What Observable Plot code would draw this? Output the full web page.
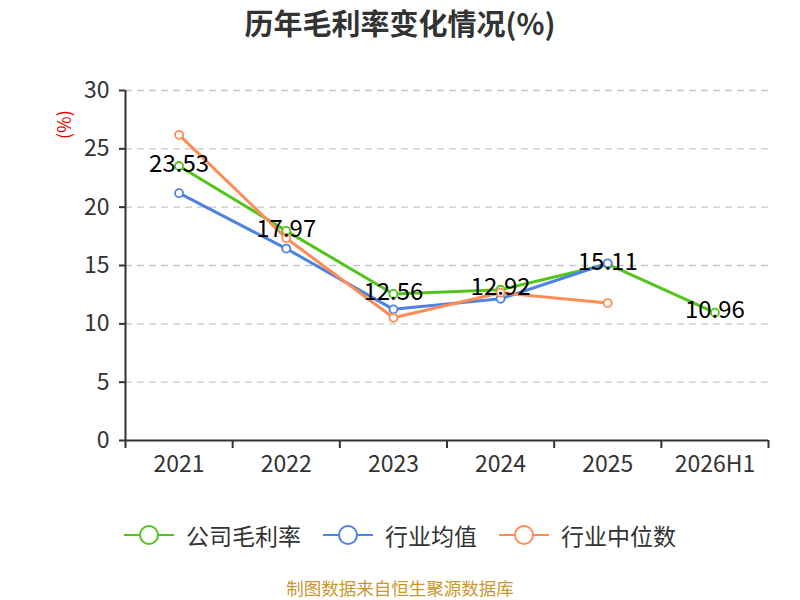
<!DOCTYPE html>
<html>
<head>
<meta charset="utf-8">
<script src="https://cdn.jsdelivr.net/npm/d3@7"></script>
<script src="https://cdn.jsdelivr.net/npm/@observablehq/plot@0.6"></script>
<style>
  body { margin:0; background:#fff; font-family:"Noto Sans CJK SC","Noto Sans",sans-serif; }
  #wrap { position:relative; width:800px; height:600px; overflow:hidden; }
  #title { position:absolute; top:0; left:0; width:800px; text-align:center; font-size:29px; font-weight:bold; color:#333; line-height:44px; }
  #chart { position:absolute; top:50px; left:0; }
  #unit { position:absolute; left:50px; top:113px; width:26px; height:26px; color:#e00; font-size:18px; transform:rotate(-90deg); text-align:center; line-height:26px; }
  #legend { position:absolute; top:518px; left:0; width:800px; display:flex; justify-content:center; align-items:center; font-size:23px; color:#333; }
  .item { display:flex; align-items:center; margin:0 11px; }
  .item svg { margin-right:12px; }
  #caption { position:absolute; top:578px; left:0; width:800px; text-align:center; font-size:17.5px; line-height:20px; color:#c9972f; }
</style>
</head>
<body>
<div id="wrap">
  <div id="title">历年毛利率变化情况(%)</div>
  <div id="chart"></div>
  <div id="unit">(%)</div>
  <div id="legend"></div>
  <div id="caption">制图数据来自恒生聚源数据库</div>
</div>
<script>
const categories = ["2021", "2022", "2023", "2024", "2025", "2026H1"];
const seriesNames = ["公司毛利率", "行业均值", "行业中位数"];
const seriesColors = ["#52c41a", "#4f83e3", "#ff8c55"];
const companyValues = [23.53, 17.97, 12.56, 12.92, 15.11, 10.96];
const industryAvg = [21.2, 16.45, 11.24, 12.15, 15.19];
const industryMedian = [26.2, 17.34, 10.52, 12.67, 11.78];
const yTicks = [0, 5, 10, 15, 20, 25, 30];

const allSeries = [companyValues, industryAvg, industryMedian];
const rows = [];
allSeries.forEach((vals, s) => vals.forEach((v, i) => rows.push({series: seriesNames[s], i, v})));
const companyRows = companyValues.map((v, i) => ({i, v}));
const centers = categories.map((_, i) => i);
const bounds = d3.range(categories.length + 1).map(k => k - 0.5);

const plot = Plot.plot({
  width: 800,
  height: 440,
  marginLeft: 125,
  marginRight: 32,
  marginTop: 40,
  marginBottom: 50,
  style: {fontFamily: '"Noto Sans CJK SC","Noto Sans",sans-serif', background: "transparent"},
  x: {type: "linear", domain: [-0.5, categories.length - 0.5]},
  y: {domain: [0, 30]},
  color: {domain: seriesNames, range: seriesColors},
  marks: [
    Plot.ruleY(yTicks.filter(t => t > 0), {stroke: "#c8c8c8", strokeWidth: 1.3, strokeDasharray: "7,5"}),
    Plot.axisY({ticks: yTicks, tickSize: 6, tickPadding: 10, fontSize: 23, color: "#333", stroke: "#333", strokeWidth: 2, label: null, tickFormat: d => String(d)}),
    Plot.axisX({ticks: bounds, tickSize: 8, tickFormat: () => "", stroke: "#333", strokeWidth: 2, label: null}),
    Plot.axisX({ticks: centers, tickSize: 0, tickPadding: 15, fontSize: 23, color: "#333", tickFormat: i => categories[i], label: null}),
    Plot.ruleX([-0.5], {y1: 0, y2: 30, stroke: "#333", strokeWidth: 2}),
    Plot.ruleY([0], {stroke: "#333", strokeWidth: 2}),
    Plot.line(rows, {x: "i", y: "v", z: "series", stroke: "series", strokeWidth: 3}),
    Plot.dot(rows, {x: "i", y: "v", stroke: "series", fill: "white", r: 4, strokeWidth: 1.8}),
    Plot.text(companyRows, {x: "i", y: "v", text: d => d.v.toFixed(2), fontSize: 24, fill: "#000", dy: -2})
  ]
});
document.getElementById("chart").appendChild(plot);

const legend = document.getElementById("legend");
seriesNames.forEach((name, k) => {
  const item = document.createElement("div");
  item.className = "item";
  item.innerHTML = `<svg width="50" height="26"><line x1="0" y1="13" x2="50" y2="13" stroke="${seriesColors[k]}" stroke-width="2"/><circle cx="25" cy="13" r="9" fill="white" stroke="${seriesColors[k]}" stroke-width="2"/></svg><span>${name}</span>`;
  legend.appendChild(item);
});
</script>
</body>
</html>
